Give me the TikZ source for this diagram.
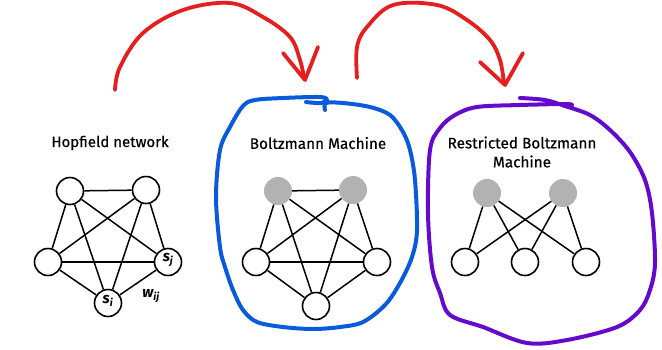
\documentclass[tikz,border=0pt]{standalone}
\usepackage{fontspec}
\setmainfont{Fira Sans}
\newfontfamily\ttlfont{Fira Sans}[FakeBold=0.5]
\begin{document}
\begin{tikzpicture}[x=1pt,y=-1pt,
  nd/.style={circle,draw=black,line width=1.6pt,fill=white,minimum size=27pt,inner sep=0pt},
  hid/.style={circle,fill=black!30,draw=none,minimum size=28pt,inner sep=0pt},
  ed/.style={line width=1.5pt,black},
  ttl/.style={font=\ttlfont\fontsize{15.3}{19}\selectfont,align=center},
  lbl/.style={font=\fontsize{15}{17}\selectfont\bfseries\itshape},
  blueloop/.style={line width=4pt,draw={rgb,255:red,10;green,90;blue,220},line cap=round,line join=round},
  purploop/.style={line width=4pt,draw={rgb,255:red,100;green,10;blue,205},line cap=round,line join=round},
  redarr/.style={line width=3.8pt,draw={rgb,255:red,230;green,30;blue,30},line cap=round,line join=round}]
\useasboundingbox (0,0) rectangle (662,349);

% Hopfield
\node[ttl,font=\ttlfont\fontsize{15}{19}\selectfont] (th) at (110,143) {Hopfield network};
\node[nd] (h1) at (70,191) {};
\node[nd] (h2) at (146,190) {};
\node[nd] (h3) at (48,262) {};
\node[nd] (h4) at (168,262) {};
\node[nd] (h5) at (108,303) {};
\foreach \a/\b in {h1/h2,h1/h3,h1/h4,h1/h5,h2/h3,h2/h4,h2/h5,h3/h4,h3/h5,h4/h5}
  \draw[ed] (\a) -- (\b);
\node[lbl] (sj) at (168,260) {s\textsubscript{j}};
\node[lbl] (si) at (108,301) {s\textsubscript{i}};
\node[lbl] (wij) at (151,296) {w\textsubscript{ij}};

% Boltzmann
\node[ttl] (tb) at (318,143) {Boltzmann Machine};
\node[hid] (b1) at (278,191) {};
\node[hid] (b2) at (353,190) {};
\node[nd] (b3) at (256,262) {};
\node[nd] (b4) at (377,262) {};
\node[nd] (b5) at (316,306) {};
\foreach \a/\b in {b1/b2,b1/b3,b1/b4,b1/b5,b2/b3,b2/b4,b2/b5,b3/b4,b3/b5,b4/b5}
  \draw[ed] (\a) -- (\b);

% RBM
\node[ttl] (tr) at (522,152) {Restricted Boltzmann\\Machine};
\node[hid] (r1) at (487,193) {};
\node[hid] (r2) at (563,193) {};
\node[nd] (r3) at (465,262) {};
\node[nd] (r4) at (525,262) {};
\node[nd] (r5) at (586,262) {};
\foreach \a in {r1,r2} \foreach \b in {r3,r4,r5}
  \draw[ed] (\a) -- (\b);

% blue loop
\draw[blueloop] plot[smooth,tension=0.55] coordinates {(325,110) (326,103) (343,103) (370,107) (390,115) (403,132) (410,150) (415,180) (417,230) (412,257) (400,283) (385,305) (363,322) (340,327) (313,329) (283,327) (257,322) (243,310) (233,290) (225,267) (220,247) (216,197) (220,150) (230,127) (243,106) (255,100) (283,98) (318,97) (327,99) (321,103) (306,102)};

% purple loop
\draw[purploop] plot[smooth,tension=0.55] coordinates {(520,98) (545,100) (565,106) (590,115) (610,130) (630,152) (645,180) (652,213) (655,263) (650,290) (640,310) (617,327) (567,340) (527,343) (483,327) (450,315) (440,293) (432,267) (428,213) (430,150) (440,128) (455,115) (477,107) (520,105) (565,104) (572,105)};

% red arrows
\draw[redarr] plot[smooth,tension=0.6] coordinates {(115,90) (120,67) (143,33) (183,10) (230,3) (263,17) (290,37) (300,60) (304,78)};
\draw[redarr] (283,53) -- (305,80) -- (318,47);
\draw[redarr] plot[smooth,tension=0.6] coordinates {(357,78) (357,47) (367,27) (393,5) (437,5) (467,20) (490,40) (500,60) (504,83)};
\draw[redarr] (480,62) -- (505,85) -- (523,53);
\end{tikzpicture}
\end{document}
